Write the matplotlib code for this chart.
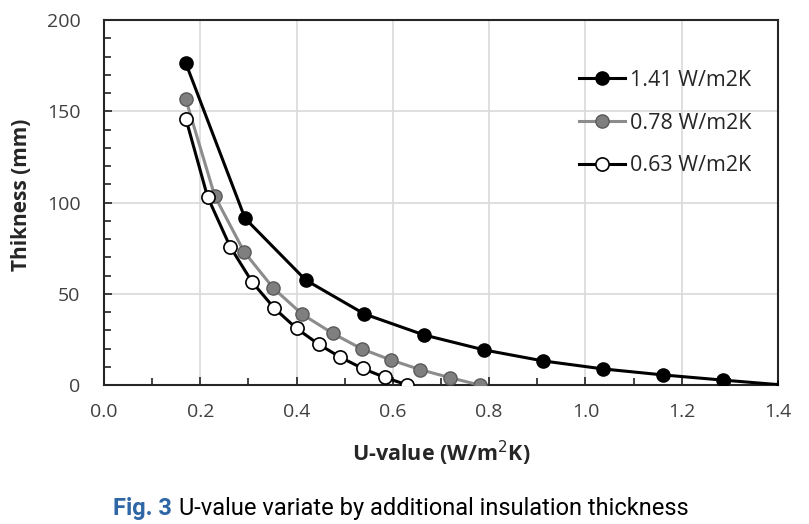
import matplotlib
matplotlib.use("Agg")
import matplotlib.pyplot as plt
from matplotlib.ticker import MultipleLocator

# thickness (mm) against resulting U-value, one series per original wall U-value
u_141 = [0.170, 0.293, 0.419, 0.541, 0.665, 0.790, 0.912, 1.037, 1.162, 1.285, 1.410]
t_141 = [176.3, 91.3, 57.5, 38.9, 27.4, 19.2, 13.2, 8.8, 5.5, 2.7, 0.0]
u_078 = [0.170, 0.230, 0.291, 0.352, 0.412, 0.475, 0.536, 0.596, 0.657, 0.719, 0.780]
t_078 = [156.5, 103.6, 73.0, 53.0, 38.7, 28.3, 19.7, 13.7, 8.4, 4.0, 0.0]
u_063 = [0.170, 0.215, 0.262, 0.308, 0.354, 0.400, 0.446, 0.491, 0.537, 0.583, 0.630]
t_063 = [146.0, 103.2, 75.8, 56.3, 42.0, 31.0, 22.3, 15.2, 9.1, 4.2, 0.0]
labels = ["1.41 W/m2K", "0.78 W/m2K", "0.63 W/m2K"]
caption_a = "Fig. 3"
caption_b = "U-value variate by additional insulation thickness"

plt.rcParams["font.family"] = ["Open Sans", "DejaVu Sans"]
fig = plt.figure(figsize=(8.09, 5.24), dpi=100)
ax = fig.add_axes([104/809, 1-385/524, 674/809, 365/524])

ax.plot(u_141, t_141, color="black", lw=2.2, marker="o", ms=9.5,
        mfc="black", mec="black", label=labels[0], zorder=4)
ax.plot(u_078, t_078, color="#8c8c8c", lw=2.2, marker="o", ms=9.5,
        mfc="#7f7f7f", mec="#5a5a5a", mew=1, label=labels[1], zorder=3)
ax.plot(u_063, t_063, color="black", lw=2.2, marker="o", ms=9.5,
        mfc="white", mec="black", mew=1.2, label=labels[2], zorder=5)

ax.set_xlim(0, 1.4)
ax.set_ylim(0, 200)
ax.xaxis.set_major_locator(MultipleLocator(0.2))
ax.xaxis.set_minor_locator(MultipleLocator(0.1))
ax.yaxis.set_major_locator(MultipleLocator(50))
ax.yaxis.set_minor_locator(MultipleLocator(10))
ax.set_xticklabels([f"{v:.1f}" for v in ax.get_xticks()])
ax.grid(True, which="major", color="#d9d9d9", lw=1.2)
ax.set_axisbelow(True)
ax.tick_params(which="both", direction="in", top=False, right=False,
               colors="#222222", labelcolor="#404040", labelsize=14)
ax.tick_params(which="major", length=6, width=1.2)
ax.tick_params(which="minor", length=5, width=1.2)
ax.tick_params(axis="y", pad=17)
ax.tick_params(axis="x", pad=13)
for s in ax.spines.values():
    s.set_color("#262626")
    s.set_linewidth(1.5)

ax.set_xlabel("U-value (W/m$^2$K)", fontsize=15.5, fontweight="bold", color="#262626", labelpad=13)
ax.set_ylabel("Thikness (mm)", fontsize=15, fontweight="bold", color="#262626")
ax.yaxis.set_label_coords(-0.107, 0.52)

ax.legend(loc="upper left", bbox_to_anchor=(0.705, 0.863), frameon=False,
          fontsize=15.5, handlelength=2.15, handletextpad=0.2, labelspacing=1.0,
          borderaxespad=0, borderpad=0, labelcolor="#262626")

# caption, scaled to the reference's width
cap_font = ["Roboto", "DejaVu Sans"]
ta = fig.text(0, 0.017, caption_a, color="#2f67a6", fontsize=17, fontweight="bold",
              family=cap_font, ha="left", va="baseline")
tb = fig.text(0, 0.017, caption_b, color="black", fontsize=17,
              family=cap_font, ha="left", va="baseline")
r = fig.canvas.get_renderer()
wa = ta.get_window_extent(r).width
wb = tb.get_window_extent(r).width
gap = 7
k = (577 - gap) / (wa + wb)
ta.set_fontsize(17 * k)
tb.set_fontsize(17 * k)
ta.set_x(113 / 809)
tb.set_x((113 + wa * k + gap) / 809)

fig.savefig("out.png", dpi=100)
